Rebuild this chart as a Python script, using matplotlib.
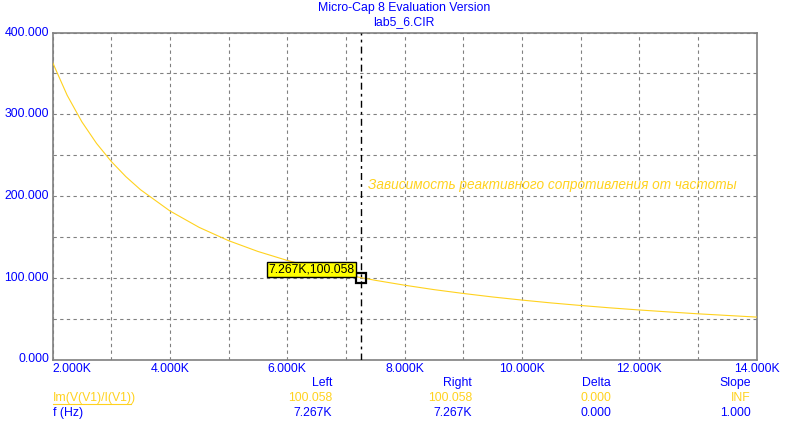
import matplotlib
matplotlib.use("Agg")
import matplotlib.pyplot as plt
from matplotlib.ticker import MultipleLocator

# Data (frequency in kHz, Im(V/I) in ohms)
freq_k = [2.0, 2.25, 2.5, 2.75, 3.0, 3.25, 3.5, 4.0, 4.5, 5.0, 5.5, 6.0, 6.5, 7.0,
          7.267, 7.5, 8.0, 8.5, 9.0, 9.5, 10.0, 10.5, 11.0, 11.5, 12.0, 12.5,
          13.0, 13.5, 14.0]
reactance = [363.6, 323.2, 290.8, 264.4, 242.4, 223.7, 207.7, 181.8, 161.6, 145.4,
             132.2, 121.2, 111.9, 103.9, 100.06, 96.9, 90.9, 85.5, 80.8, 76.5,
             72.7, 69.2, 66.1, 63.2, 60.6, 58.2, 55.9, 53.9, 51.9]

cursor_x = 7.267
cursor_y = 100.058
cursor_label = "7.267K,100.058"
x_ticks = [2, 4, 6, 8, 10, 12, 14]
y_ticks = [0, 100, 200, 300, 400]

title1 = "Micro-Cap 8 Evaluation Version"
title2 = "lab5_6.CIR"
note = "Зависимость реактивного сопротивления от частоты"

table_headers = ["Left", "Right", "Delta", "Slope"]
row1_name = "Im(V(V1)/I(V1))"
row1_vals = ["100.058", "100.058", "0.000", "INF"]
row2_name = "f (Hz)"
row2_vals = ["7.267K", "7.267K", "0.000", "1.000"]

BLUE = "#0000FF"
YEL = "#FFD21E"
GRID = "#808080"
FONT = "Liberation Sans"
FS = 8.8

W, H = 788, 426
fig = plt.figure(figsize=(W / 100, H / 100), dpi=100)
L, R, T, B = 52.5, 756.5, 32.5, 359.5
ax = fig.add_axes([L / W, 1 - B / H, (R - L) / W, (B - T) / H])

ax.plot(freq_k, reactance, color=YEL, lw=0.8, zorder=3)
ax.set_xlim(2, 14)
ax.set_ylim(0, 400)

ax.xaxis.set_major_locator(MultipleLocator(1))
ax.yaxis.set_major_locator(MultipleLocator(50))
ax.grid(True, color=GRID, lw=0.8, linestyle=(0, (3, 3)))
ax.tick_params(length=0, labelbottom=False, labelleft=False)
for s in ax.spines.values():
    s.set_color(GRID)
    s.set_linewidth(1.2)

# tick labels
for xv in x_ticks:
    ha = "left" if xv == x_ticks[0] else "center"
    ax.text(xv, -4.5, f"{xv:.3f}K", color=BLUE, fontsize=FS, family=FONT,
            ha=ha, va="top", transform=ax.transData, clip_on=False)
for yv in y_ticks:
    ax.annotate(f"{yv:.3f}", xy=(0, yv), xycoords=("axes fraction", "data"),
                xytext=(-2.5, 0), textcoords="offset points", color=BLUE,
                fontsize=FS, family=FONT, ha="right", va="center")

# cursor
ax.axvline(cursor_x, color="black", lw=1.0, linestyle=(0, (5, 3, 2, 3)), zorder=4)
ax.plot([cursor_x], [cursor_y], marker="s", ms=7, mfc="none", mec="black",
        mew=1.6, zorder=5)
ax.annotate(cursor_label, xy=(cursor_x, cursor_y), xytext=(-5, 6),
            textcoords="offset points", ha="right", va="center",
            fontsize=FS, family=FONT, color="black",
            bbox=dict(boxstyle="square,pad=0.15", fc="#FFFF00", ec="black", lw=1.0),
            zorder=6)

ax.text(7.38, 213, note, color=YEL, fontsize=9.85, family=FONT, style="italic",
        ha="left", va="center", zorder=4)

# titles
fig.text(404 / W, 1 - 8.5 / H, title1, color=BLUE, fontsize=FS, family=FONT,
         ha="center", va="center")
fig.text(404 / W, 1 - 22 / H, title2, color=BLUE, fontsize=FS, family=FONT,
         ha="center", va="center")

# bottom table
col_right = [332, 472, 611, 751]
rows_y = [383, 398, 413]
for x, h in zip(col_right, table_headers):
    fig.text(x / W, 1 - rows_y[0] / H, h, color=BLUE, fontsize=FS, family=FONT,
             ha="right", va="center")
fig.text(52.5 / W, 1 - rows_y[1] / H, row1_name, color=YEL, fontsize=FS,
         family=FONT, ha="left", va="center")
fig.add_artist(plt.Line2D([52.5 / W, 131 / W], [1 - 404 / H, 1 - 404 / H],
                          color=YEL, lw=0.8, transform=fig.transFigure))
for x, v in zip(col_right, row1_vals):
    fig.text(x / W, 1 - rows_y[1] / H, v, color=YEL, fontsize=FS, family=FONT,
             ha="right", va="center")
fig.text(52.5 / W, 1 - rows_y[2] / H, row2_name, color=BLUE, fontsize=FS,
         family=FONT, ha="left", va="center")
for x, v in zip(col_right, row2_vals):
    fig.text(x / W, 1 - rows_y[2] / H, v, color=BLUE, fontsize=FS, family=FONT,
             ha="right", va="center")

fig.savefig("out.png", dpi=100, facecolor="white")
